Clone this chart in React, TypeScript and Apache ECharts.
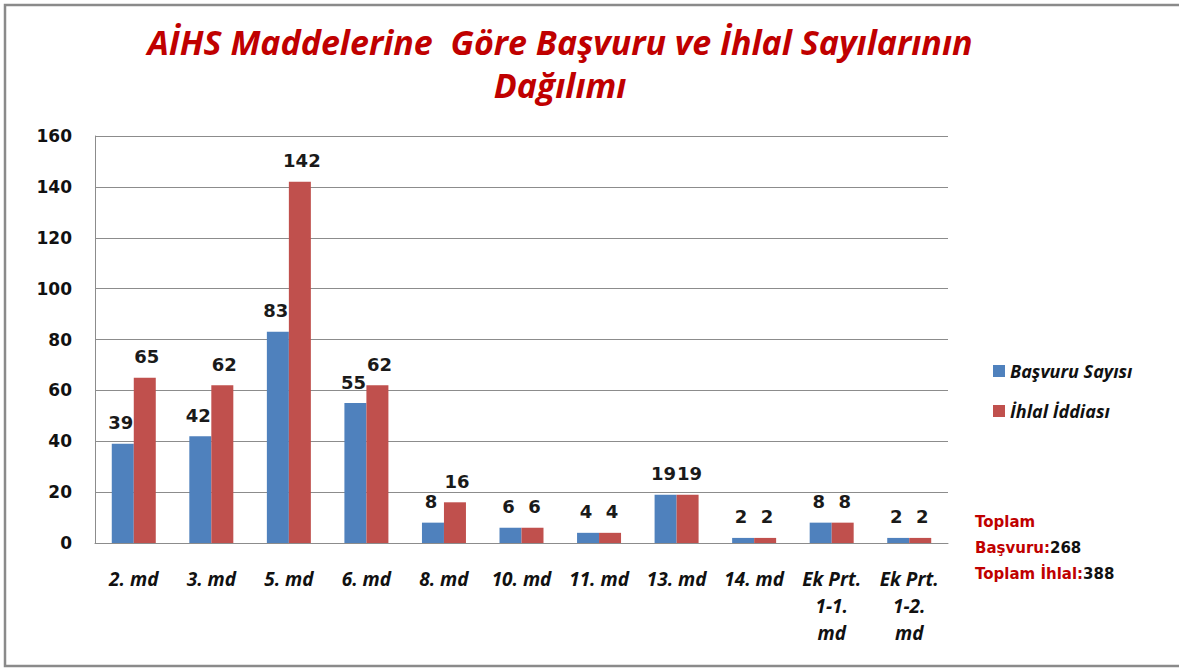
import React, { useEffect, useRef } from "react";
import * as echarts from "echarts";

const categories = ["2. md", "3. md", "5. md", "6. md", "8. md", "10. md", "11. md", "13. md", "14. md", "Ek Prt.\n1-1.\nmd", "Ek Prt.\n1-2.\nmd"];
const basvuru = [39, 42, 83, 55, 8, 6, 4, 19, 2, 8, 2];
const ihlal = [65, 62, 142, 62, 16, 6, 4, 19, 2, 8, 2];
const seriesNames = ["Başvuru Sayısı", "İhlal İddiası"];
const titleText = "AİHS Maddelerine  Göre Başvuru ve İhlal Sayılarının\nDağılımı";
const totalBasvuru = 268;
const totalIhlal = 388;

export default function App() {
  const ref = useRef<HTMLDivElement>(null);
  useEffect(() => {
    const chart = echarts.init(ref.current!, null, { renderer: "svg" });
    const labelStyle = (dx: number) => ({
      show: true,
      position: "top" as const,
      distance: 12,
      offset: [dx, 0],
      fontFamily: "DejaVu Sans",
      fontWeight: "bold" as const,
      fontSize: 18,
      color: "#1a1a1a",
    });
    chart.setOption({
      animation: false,
      backgroundColor: "#ffffff",
      title: {
        text: titleText,
        left: 555,
        textAlign: "center",
        top: 15,
        textStyle: {
          fontFamily: "Open Sans",
          fontStyle: "italic",
          fontWeight: "bold",
          fontSize: 34,
          lineHeight: 43,
          color: "#c00000",
        },
      },
      legend: {
        orient: "vertical",
        left: 988,
        top: 357,
        itemWidth: 12,
        itemHeight: 12,
        itemGap: 22,
        icon: "rect",
        textStyle: {
          fontFamily: "Open Sans",
          fontStyle: "italic",
          fontWeight: "bold",
          fontSize: 18,
          color: "#111",
        },
      },
      grid: { left: 95, top: 136, width: 853, height: 407 },
      xAxis: {
        type: "category",
        data: categories,
        axisLine: { lineStyle: { color: "#8c8c8c", width: 1 } },
        axisTick: { show: false },
        axisLabel: {
          interval: 0,
          margin: 22,
          fontFamily: "Open Sans",
          fontStyle: "italic",
          fontWeight: "bold",
          fontSize: 19,
          lineHeight: 27,
          color: "#111",
        },
      },
      yAxis: {
        type: "value",
        min: 0,
        max: 160,
        interval: 20,
        axisLine: { show: true, lineStyle: { color: "#8c8c8c" } },
        axisTick: { show: false },
        splitLine: { lineStyle: { color: "#8c8c8c", width: 1 } },
        axisLabel: {
          margin: 23,
          fontFamily: "DejaVu Sans",
          fontWeight: "bold",
          fontSize: 17,
          color: "#111",
        },
      },
      series: [
        {
          name: seriesNames[0],
          type: "bar",
          data: basvuru,
          barWidth: 22,
          barGap: "0%",
          itemStyle: { color: "#4f81bd" },
          label: labelStyle(-2),
        },
        {
          name: seriesNames[1],
          type: "bar",
          data: ihlal,
          barWidth: 22,
          barGap: "0%",
          itemStyle: { color: "#c0504d" },
          label: labelStyle(2),
        },
      ],
      graphic: [
        {
          type: "rect",
          shape: { x: 5, y: 5, width: 1200, height: 661 },
          style: { fill: "none", stroke: "#8a8a8a", lineWidth: 2.5 },
          silent: true,
        },
        {
          type: "text",
          left: 975,
          top: 514,
          style: {
            text: `{r|Toplam}\n{r|Başvuru:}{k|${totalBasvuru}}\n{r|Toplam İhlal:}{k|${totalIhlal}}`,
            rich: {
              r: { fontFamily: "DejaVu Sans", fontWeight: "bold", fontSize: 15, fill: "#c00000", color: "#c00000", lineHeight: 26 },
              k: { fontFamily: "DejaVu Sans", fontWeight: "bold", fontSize: 15, fill: "#111111", color: "#111111", lineHeight: 26 },
            },
          },
        },
      ],
    });
    return () => chart.dispose();
  }, []);
  return <div ref={ref} style={{ position: "fixed", left: 0, top: 0, width: 1179, height: 671 }} />;
}
